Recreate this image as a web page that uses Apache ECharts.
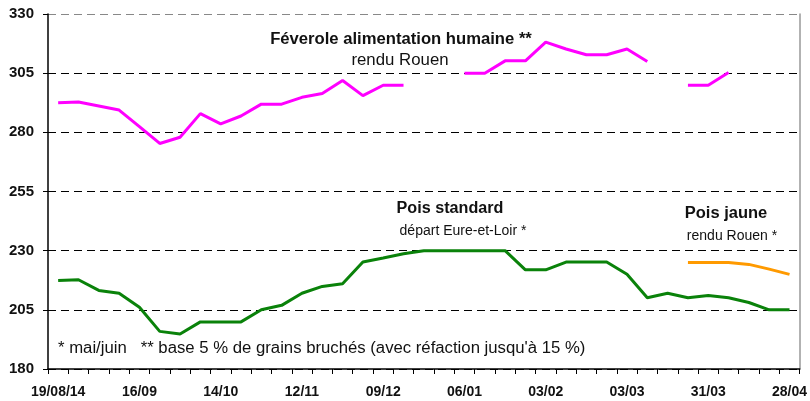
<!DOCTYPE html>
<html>
<head>
<meta charset="utf-8">
<script src="https://cdn.jsdelivr.net/npm/echarts@6/dist/echarts.min.js"></script>
<style>
  html, body { margin: 0; padding: 0; background: #fff; }
  #chart { width: 810px; height: 401px; }
</style>
</head>
<body>
<div id="chart"></div>
<script>
// weekly quotations, 19/08/14 -> 28/04/15
var weeks = ['19/08/14','26/08','02/09','09/09','16/09','23/09','30/09','07/10','14/10','21/10',
             '28/10','04/11','12/11','18/11','25/11','02/12','09/12','16/12','23/12','30/12',
             '06/01','13/01','20/01','27/01','03/02','10/02','17/02','24/02','03/03','10/03',
             '17/03','24/03','31/03','07/04','14/04','21/04','28/04'];

var feverole = [292.5, 292.8, 291.1, 289.4, 282.4, 275.3, 277.9, 287.9, 283.6, 286.9,
                291.9, 291.9, 294.8, 296.4, 301.9, 295.5, 299.9, 299.9, null, null,
                305, 305, 310.2, 310.2, 318.1, 315.2, 312.8, 312.8, 315.2, 309.9,
                null, 299.9, 299.9, 305.3, null, null, null];

var poisStandard = [217.4, 217.7, 213.2, 212.0, 206.1, 195.9, 194.8, 199.9, 199.9, 199.9,
                    205.0, 206.9, 212.0, 214.9, 216.0, 225.2, 226.9, 228.7, 230, 230,
                    230, 230, 230, 221.9, 221.9, 225.2, 225.2, 225.2, 220.0, 210.1,
                    212.0, 210.1, 211.1, 210.1, 208.1, 205.0, 205.0];

var poisJaune = [null, null, null, null, null, null, null, null, null, null,
                 null, null, null, null, null, null, null, null, null, null,
                 null, null, null, null, null, null, null, null, null, null,
                 null, 225.0, 225.0, 225.0, 224.2, 222.2, 220.0];

var FONT = 'Liberation Sans, Arial, sans-serif';

function line_series(name, data, color){
    return {
        type: 'line',
        name: name,
        data: data,
        symbol: 'none',
        connectNulls: false,
        lineStyle: { color: color, width: 3 },
        z: 3
    };
}

function label_text(x, y, text, bold, size, sx, align){
    return {
        type: 'text',
        x: x,
        y: y,
        scaleX: sx || 1,
        style: {
            text: text,
            fill: '#111',
            font: (bold ? 'bold ' : '') + size + 'px ' + FONT,
            align: align || 'center',
            verticalAlign: 'middle'
        }
    };
}

var chart = echarts.init(document.getElementById('chart'));
chart.setOption({
    animation: false,
    grid: { left: 48, right: 8, top: 14, bottom: 32 },
    xAxis: {
        type: 'category',
        data: weeks,
        boundaryGap: true,
        axisLine: { lineStyle: { color: '#000', width: 1.5 } },
        axisTick: { show: true, interval: 0, length: 5, lineStyle: { color: '#000' } },
        axisLabel: { interval: 3, color: '#111', fontFamily: FONT, fontWeight: 'bold',
                     fontSize: 14, margin: 16, showMaxLabel: true }
    },
    yAxis: [{
        type: 'value',
        min: 180,
        max: 330,
        interval: 25,
        axisLine: { show: true, lineStyle: { color: '#000', width: 1.5 } },
        axisTick: { show: true, length: 5, lineStyle: { color: '#000' } },
        axisLabel: { color: '#111', fontFamily: FONT, fontWeight: 'bold', fontSize: 15, margin: 14 },
        splitLine: { show: true, lineStyle: {
            color: ['#000', '#000', '#000', '#000', '#000', '#000', '#888'],
            type: [8, 5], width: 1 } }
    }, {
        type: 'value',
        position: 'right',
        min: 180,
        max: 330,
        interval: 25,
        axisLine: { show: true, lineStyle: { color: '#999', width: 1.5 } },
        axisTick: { show: false },
        axisLabel: { show: false },
        splitLine: { show: false }
    }],
    series: [
        line_series('Féverole alimentation humaine', feverole, '#ff00ff'),
        line_series('Pois standard', poisStandard, '#0a820a'),
        line_series('Pois jaune', poisJaune, '#ff9a00')
    ],
    graphic: [
        label_text(401, 40, 'Féverole alimentation humaine **', true, 16, 1.04),
        label_text(400, 61, 'rendu Rouen', false, 16, 1.05),
        label_text(450, 209, 'Pois standard', true, 16, 1.01),
        label_text(463, 231, 'départ Eure-et-Loir *', false, 14),
        label_text(726, 214, 'Pois jaune', true, 16, 1.03),
        label_text(732, 236, 'rendu Rouen *', false, 14),
        label_text(58, 349, '* mai/juin   ** base 5 % de grains bruchés (avec réfaction jusqu\'à 15 %)',
                   false, 16, 1.045, 'left')
    ]
});
</script>
</body>
</html>
